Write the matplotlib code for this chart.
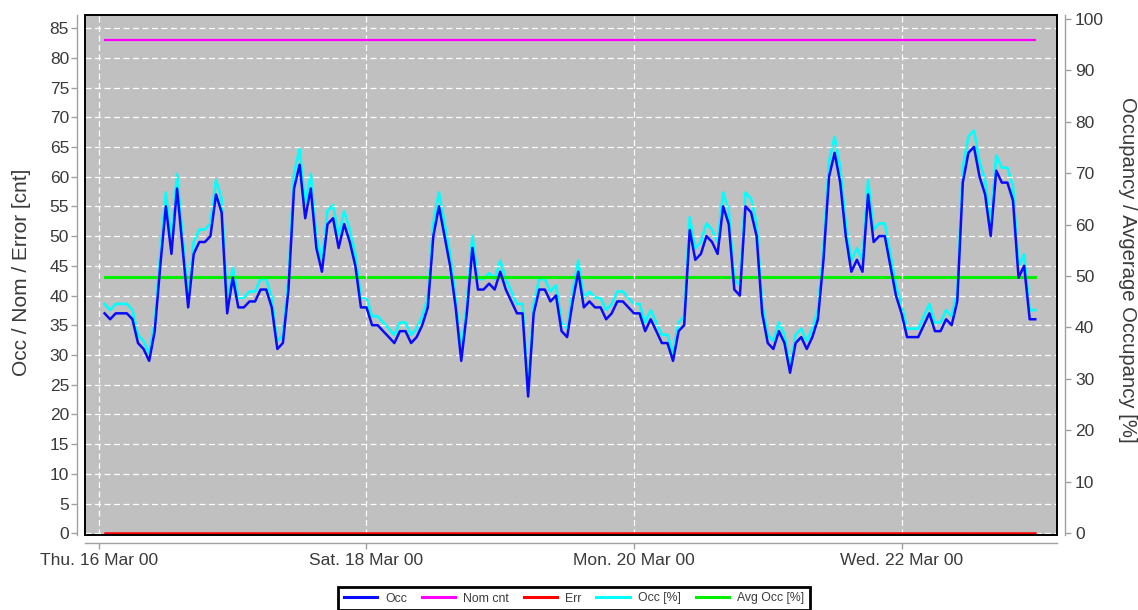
import matplotlib
matplotlib.use('Agg')
import matplotlib.pyplot as plt
import pandas as pd
from matplotlib.lines import Line2D
from matplotlib.patches import Rectangle

plt.rcParams['font.family'] = ['Liberation Sans', 'DejaVu Sans']

# ---------------- data ----------------
start_time = '2000-03-16 01:00'
occ = [37, 36, 37, 37, 37, 36, 32, 31, 29, 34, 45, 55, 47, 58, 48, 38, 47, 49, 49, 50,
       57, 54, 37, 43, 38, 38, 39, 39, 41, 41, 38, 31, 32, 41, 58, 62, 53, 58, 48, 44,
       52, 53, 48, 52, 49, 45, 38, 38, 35, 35, 34, 33, 32, 34, 34, 32, 33, 35, 38, 50,
       55, 50, 45, 38, 29, 37, 48, 41, 41, 42, 41, 44, 41, 39, 37, 37, 23, 37, 41, 41,
       39, 40, 34, 33, 39, 44, 38, 39, 38, 38, 36, 37, 39, 39, 38, 37, 37, 34, 36, 34,
       32, 32, 29, 34, 35, 51, 46, 47, 50, 49, 47, 55, 52, 41, 40, 55, 54, 50, 37, 32,
       31, 34, 32, 27, 32, 33, 31, 33, 36, 46, 60, 64, 59, 50, 44, 46, 44, 57, 49, 50,
       50, 45, 40, 37, 33, 33, 33, 35, 37, 34, 34, 36, 35, 39, 59, 64, 65, 60, 57, 50,
       61, 59, 59, 56, 43, 45, 36, 36]
nom_cnt = 83
err_cnt = 0
avg_occ_pct = 49.9
occ_pct = [v / nom_cnt * 100 for v in occ]

tick_dates = ['2000-03-16', '2000-03-18', '2000-03-20', '2000-03-22']
tick_labels = ['Thu. 16 Mar 00', 'Sat. 18 Mar 00', 'Mon. 20 Mar 00', 'Wed. 22 Mar 00']
left_ticks = list(range(0, 86, 5))
right_ticks = list(range(0, 101, 10))

legend_labels = ['Occ', 'Nom cnt', 'Err', 'Occ [%]', 'Avg Occ [%]']
c_occ, c_nom, c_err, c_pct, c_avg = '#0a0aff', '#ff00ff', '#ff0000', '#00ffff', '#00f000'

times = pd.date_range(start_time, periods=len(occ), freq='h')
t0, t1 = times[0], times[-1]

# ---------------- figure ----------------
fig = plt.figure(figsize=(11.38, 6.10), dpi=100)
ax = fig.add_axes([85 / 1138, 1 - 535 / 610, 972 / 1138, 520 / 610])
ax2 = ax.twinx()
ax.set_zorder(ax2.get_zorder() + 1)
ax.patch.set_visible(False)
ax2.patch.set_visible(True)
ax2.patch.set_facecolor('#c0c0c0')

# right-axis series (below)
ax2.plot(times, occ_pct, color=c_pct, lw=1.9, solid_joinstyle='round')
ax2.plot([t0, t1], [avg_occ_pct, avg_occ_pct], color=c_avg, lw=2.2)

# left-axis series (above)
ax.plot([t0, t1], [nom_cnt, nom_cnt], color=c_nom, lw=1.6)
ax.plot([t0, t1], [err_cnt, err_cnt], color=c_err, lw=1.8)
ax.plot(times, occ, color=c_occ, lw=1.8, solid_joinstyle='round')

day0 = pd.Timestamp(tick_dates[0])
ax.set_xlim(day0 - pd.Timedelta(hours=2.51), day0 + pd.Timedelta(hours=171.9))
ax.set_ylim(-0.3, 87.2)
ax2.set_ylim(-0.4, 100.8)

ax.set_xticks(pd.to_datetime(tick_dates))
ax.set_xticklabels(tick_labels)
ax.set_yticks(left_ticks)
ax2.set_yticks(right_ticks)

ax.set_axisbelow(True)
ax.grid(True, color='white', linestyle=(0, (4.8, 2.8)), linewidth=0.9)
ax2.grid(False)

spine_col = '#a0a0a0'
txt_col = '#3a3a3a'
for s in ['top', 'right']:
    ax.spines[s].set_visible(False)
for s in ['top', 'left', 'bottom']:
    ax2.spines[s].set_visible(False)
ax.spines['left'].set_position(('outward', 6))
ax.spines['bottom'].set_position(('outward', 6))
ax2.spines['right'].set_position(('outward', 6))
for sp in [ax.spines['left'], ax.spines['bottom'], ax2.spines['right']]:
    sp.set_color(spine_col)
    sp.set_linewidth(1.0)

ax.tick_params(axis='both', colors=spine_col, labelcolor=txt_col, labelsize=12.5,
               length=4, width=1)
ax.tick_params(axis='x', pad=3)
ax.tick_params(axis='y', pad=1.5)
ax2.tick_params(axis='y', colors=spine_col, labelcolor=txt_col, labelsize=12.5,
                length=4, width=1, pad=3)

# black frame around plot area
ax.add_patch(Rectangle((0, 0), 1, 1, transform=ax.transAxes, fill=False,
                       edgecolor='black', lw=1.4, clip_on=False, zorder=10))

fig.text(22 / 1138, 1 - 272 / 610, 'Occ / Nom / Error [cnt]', rotation=90,
         ha='center', va='center', fontsize=15, color=txt_col)
fig.text(1128 / 1138, 1 - 270 / 610, 'Occupancy / Avgerage Occupancy [%]',
         rotation=270, ha='center', va='center', fontsize=14.6, color=txt_col)

handles = [Line2D([], [], color=c, lw=2.2) for c in [c_occ, c_nom, c_err, c_pct, c_avg]]
leg = fig.legend(handles, legend_labels, loc='upper center',
                 bbox_to_anchor=(574 / 1138, 1 - 587 / 610), ncol=5, fontsize=8.8,
                 frameon=True, fancybox=False, edgecolor='black', handlelength=2.75,
                 handletextpad=0.65, columnspacing=1.2, borderpad=0.45,
                 borderaxespad=0)
leg.get_frame().set_linewidth(2)
leg.get_frame().set_alpha(1)
for t in leg.get_texts():
    t.set_color(txt_col)

fig.savefig('out.png', dpi=100)
